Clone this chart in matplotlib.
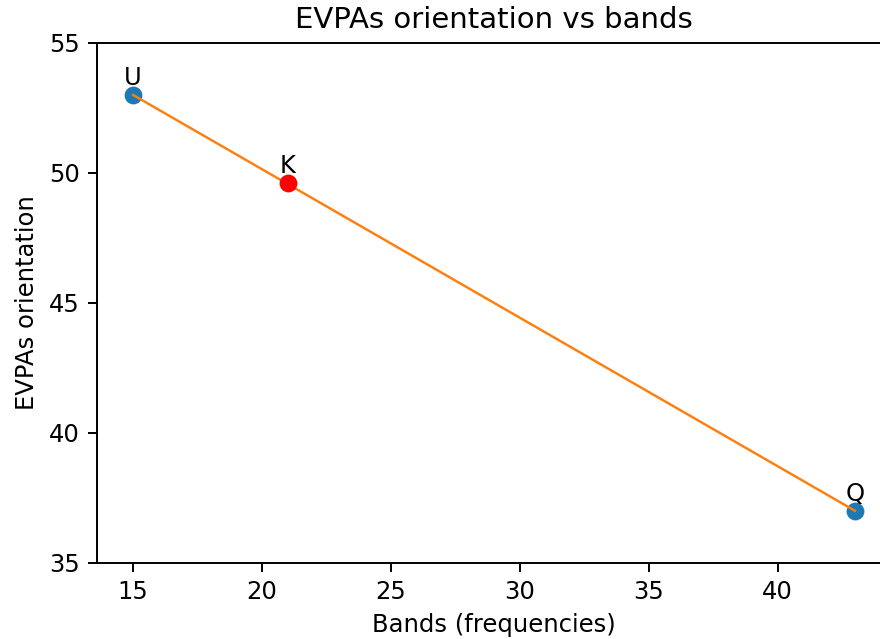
import matplotlib
matplotlib.use("Agg")
import matplotlib.pyplot as plt

# Bandas e orientacao dos EVPAs
bandas = ["U", "Q"]
freq = [15, 43]
evpa = [53, 37]

# Banda K (em vermelho)
banda_k = "K"
freq_k = 21
evpa_k = 49.6

ticks_y = [35, 40, 45, 50, 55]

DPI = 175
fig = plt.figure(figsize=(880 / DPI, 639 / DPI), dpi=DPI)
ax = fig.add_axes([97 / 880, 76.3 / 639, 794 / 880, 519.7 / 639])

ax.scatter(freq, evpa, s=40)
ax.plot(freq, evpa, color="tab:orange", lw=1.0)
ax.scatter([freq_k], [evpa_k], color="red", s=40, zorder=3)

for nome, x, y in zip(bandas, freq, evpa):
  ax.annotate(nome, (x, y), ha="center", va="bottom", xytext=(0, 2), textcoords="offset points")
ax.annotate(banda_k, (freq_k, evpa_k), ha="center", va="bottom", xytext=(0, 2), textcoords="offset points")

ax.set_ylim(35, 55)
ax.set_yticks(ticks_y)
ax.set_title("EVPAs orientation vs bands")
ax.set_xlabel("Bands (frequencies)")
ax.set_ylabel("EVPAs orientation")

fig.savefig("out.png", dpi=DPI)
